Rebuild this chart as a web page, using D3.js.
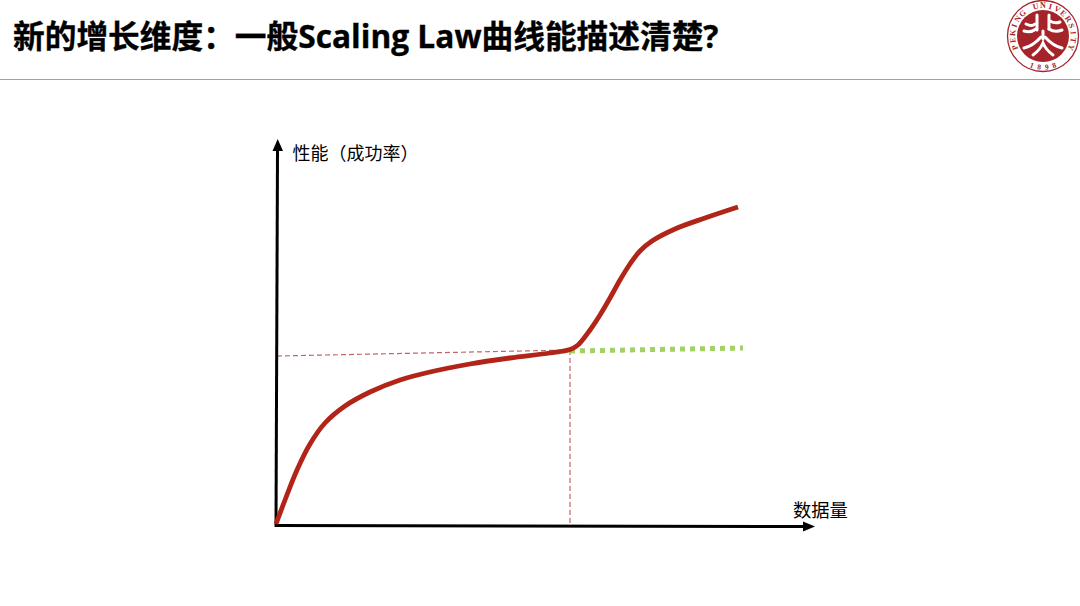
<!DOCTYPE html>
<html><head><meta charset="utf-8">
<script src="https://cdn.jsdelivr.net/npm/d3@7/dist/d3.min.js"></script>
<style>html,body{margin:0;background:#fff}svg{display:block}text{font-family:"Noto Sans CJK SC","Noto Sans",sans-serif}</style>
</head><body><svg id="c" width="1080" height="606"></svg>
<script>
const titleText = "新的增长维度\uFF1A一般Scaling Law曲线能描述清楚?";
const yLabel = "性能\uFF08成功率\uFF09";
const xLabel = "数据量";
const sealTop = "PEKING UNIVERSITY";
const sealYear = "1898";
const curveX = [0,9,21,34,49,69,94,124,154,194,234,274,294,302,314,324,334,344,354,364,376,399,429,462];
const curveY = [1,25,55,81,102,119,133,145,153,161,167,172,175.5,180,195,210,227,245,261,274,284,296,307,318];
const flatX = [294,467];
const flatY = [174,177];
const refX = [1,294];
const refY = [169,175];
const dropX = [294,294];
const dropY = [175,-2];

const svg = d3.select("#c");
const x = d3.scaleLinear().domain([0,540]).range([276,816]);
const y = d3.scaleLinear().domain([0,390]).range([525,135]);
const line = (xs,ys,curve)=>d3.line().x(i=>x(xs[i])).y(i=>y(ys[i])).curve(curve||d3.curveLinear)(d3.range(xs.length));

// header
svg.append("text").attr("x",13).attr("y",47.5).attr("font-size",31.7).attr("font-weight",700).attr("fill","#000")
  .style("font-family",'"Open Sans","Noto Sans CJK SC",sans-serif').attr("stroke","#000").attr("stroke-width",0.35).text(titleText);
svg.append("line").attr("x1",0).attr("x2",1080).attr("y1",79.5).attr("y2",79.5).attr("stroke","#cf8f8f").attr("stroke-width",1.2);

// seal
const red="#a5242a";
const seal=svg.append("g").attr("transform","translate(1043,36)");
seal.append("circle").attr("r",35.5).attr("fill","#fff").attr("stroke",red).attr("stroke-width",1.3);
seal.append("circle").attr("r",26).attr("fill",red);
const topChars=sealTop.split("");
const angTop=d3.scaleLinear().domain([0,topChars.length-1]).range([-112,112]);
seal.selectAll("text.t").data(topChars).join("text").attr("class","t")
  .attr("transform",(d,i)=>`rotate(${angTop(i)}) translate(0,-27.8)`).attr("text-anchor","middle")
  .style("font-family","Liberation Serif").attr("font-size",8).attr("font-weight",700).attr("fill",red).text(d=>d);
const yearChars=sealYear.split("");
const angYear=d3.scaleLinear().domain([0,yearChars.length-1]).range([21,-21]);
seal.selectAll("text.y").data(yearChars).join("text").attr("class","y")
  .attr("transform",(d,i)=>`rotate(${angYear(i)}) translate(0,33.8)`).attr("text-anchor","middle")
  .style("font-family","Liberation Serif").attr("font-size",7.5).attr("font-weight",700).attr("fill",red).text(d=>d);
const glyph=["M-6,-21 L-6,-6","M-17,-12 Q-11,-9 -8,-12","M-19,-5 Q-12,-3 -7,-7","M6,-21 L6,-7","M7,-15 Q12,-12 17,-14","M6,-7 Q12,-3 19,-6",
 "M0,-5 L0,3","M-2,1 Q-10,10 -19,12","M2,1 Q10,10 19,12","M-10,19 Q-3,14 0,7 Q3,14 10,19"];
seal.selectAll("path.g").data(glyph).join("path").attr("class","g").attr("d",d=>d).attr("fill","none").attr("stroke","#fff").attr("stroke-width",3).attr("stroke-linecap","round");

// reference lines
const refStyle=s=>s.attr("fill","none").attr("stroke","#c0666a").attr("stroke-width",1.2).attr("stroke-dasharray","5 3");
svg.append("path").attr("d",line(refX,refY)).call(refStyle);
svg.append("path").attr("d",line(dropX,dropY)).call(refStyle);

// axes
const ax="#000";
svg.append("line").attr("x1",276).attr("x2",277.5).attr("y1",527).attr("y2",150).attr("stroke",ax).attr("stroke-width",3);
svg.append("path").attr("d","M277.7,139 L272.5,151 L283,151 Z").attr("fill",ax);
svg.append("line").attr("x1",275).attr("x2",806).attr("y1",525.5).attr("y2",526.5).attr("stroke",ax).attr("stroke-width",3);
svg.append("path").attr("d","M815,526.5 L803,521.5 L803,531.5 Z").attr("fill",ax);

// green continuation
svg.append("path").attr("d",line(flatX,flatY)).attr("fill","none").attr("stroke","#a2d165").attr("stroke-width",5).attr("stroke-dasharray","5 5");
// main curve
svg.append("path").attr("d",line(curveX,curveY,d3.curveCatmullRom)).attr("fill","none").attr("stroke","#b22417").attr("stroke-width",4.8);

// labels
svg.append("text").attr("x",292.5).attr("y",160).attr("font-size",18).attr("fill","#000").text(yLabel);
svg.append("text").attr("x",793).attr("y",516.5).attr("font-size",18.3).attr("fill","#000").text(xLabel);
</script></body></html>
